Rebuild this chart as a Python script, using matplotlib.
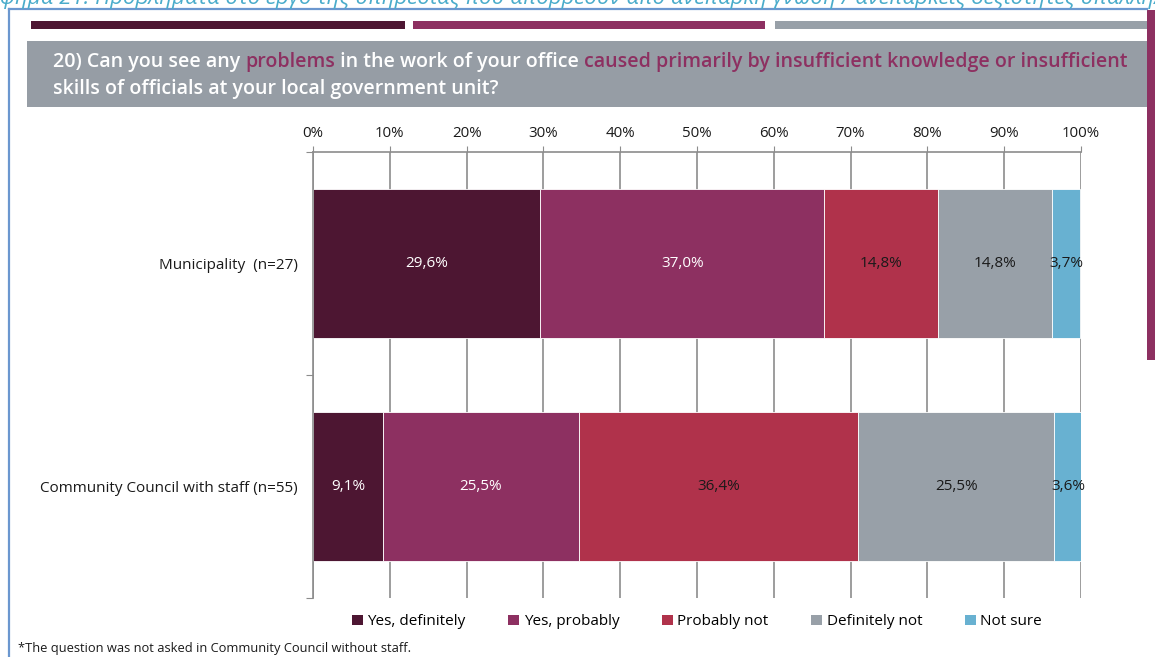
import matplotlib
matplotlib.use("Agg")
import matplotlib.pyplot as plt
from matplotlib.patches import Rectangle, Patch
from matplotlib.lines import Line2D

plt.rcParams['font.family'] = ['Open Sans', 'DejaVu Sans']

# survey answers, % of respondents
groups = ['Municipality  (n=27)', 'Community Council with staff (n=55)']
answers = ['Yes, definitely', 'Yes, probably', 'Probably not', 'Definitely not', 'Not sure']
values = [
    [29.6, 37.0, 14.8, 14.8, 3.7],
    [9.1, 25.5, 36.4, 25.5, 3.6],
]
colors = ['#4d1632', '#8d3061', '#b0324b', '#98a0a8', '#68b1d1']
label_colors = ['white', 'white', '#1a1a1a', '#1a1a1a', '#1a1a1a']
ticks = list(range(0, 101, 10))

W, H = 1155, 657
fig = plt.figure(figsize=(W / 100, H / 100), dpi=100)
renderer = fig.canvas.get_renderer()


def px(x, y):
    # pixel position (from top-left) -> figure fraction
    return x / W, 1 - y / H


def box(x0, y0, x1, y1, color, z=0):
    fig.patches.append(Rectangle(px(x0, y1), (x1 - x0) / W, (y1 - y0) / H,
                                 transform=fig.transFigure, facecolor=color,
                                 edgecolor='none', zorder=z))


# caption running off the top of the page: only its lower strip is in view
fig.text(-36 / W, 1 - 4 / H, 'Γράφημα 21: Προβλήματα στο έργο της υπηρεσίας που απορρέουν από '
         'ανεπαρκή γνώση / ανεπαρκείς δεξιότητες υπαλλήλων',
         color='#4aaccb', fontsize=16, style='italic', va='baseline', ha='left')

# frame lines
fig.add_artist(Line2D([9 / W, 9 / W], [0, 1 - 9 / H], color='#6b97cf', lw=1.6,
                      transform=fig.transFigure))
fig.add_artist(Line2D([9 / W, 1147 / W], [1 - 9 / H, 1 - 9 / H], color='#6b97cf', lw=1.6,
                      transform=fig.transFigure))
box(1147, 10, 1156, 360, '#8d3061')

# colour strips and title box
box(31, 21, 405, 29, '#4d1632')
box(413, 21, 765, 29, '#8d3061')
box(775, 21, 1147, 29, '#98a0a8')
box(27, 41, 1147, 107, '#969da5')

title_lines = [
    [('20) Can you see any ', 'white'), ('problems', '#8d3061'),
     (' in the work of your office ', 'white'),
     ('caused primarily by insufficient knowledge or insufficient', '#8d3061')],
    [('skills of officials at your local government unit?', 'white')],
]
for row, parts in enumerate(title_lines):
    x = 53
    y = 67 + row * 27
    for s, c in parts:
        t = fig.text(*px(x, y), s, color=c, fontsize=14.1, fontweight='semibold',
                     va='baseline', ha='left')
        x += t.get_window_extent(renderer).width

# chart
ax = fig.add_axes([313 / W, 1 - 598 / H, (1081 - 313) / W, (598 - 152) / H])
ax.set_xlim(0, 100)
ax.set_ylim(1.5, -0.5)
ax.xaxis.tick_top()
ax.set_xticks(ticks)
ax.set_xticklabels([f'{t}%' for t in ticks], fontsize=10.8, color='#1a1a1a')
ax.tick_params(axis='x', length=4, color='#8c8c8c', pad=4)
ax.set_yticks([-0.5, 0.5, 1.5])
ax.set_yticklabels([])
ax.set_yticks([0, 1], minor=True)
ax.set_yticklabels(groups, minor=True, fontsize=11, color='#1a1a1a')
ax.tick_params(axis='y', which='major', length=5, color='#8c8c8c')
ax.tick_params(axis='y', which='minor', length=0, pad=10.8)
for side in ['right', 'bottom']:
    ax.spines[side].set_visible(False)
for side in ['top', 'left']:
    ax.spines[side].set_color('#8c8c8c')
    ax.spines[side].set_linewidth(1.2)
ax.grid(axis='x', color='#8c8c8c', lw=1.2)
ax.set_axisbelow(True)

for gi, row in enumerate(values):
    left = 0
    for k, v in enumerate(row):
        ax.barh(gi, v, left=left, height=0.664, color=colors[k], edgecolor='white',
                linewidth=0.6, zorder=2)
        ax.text(left + v / 2, gi, f'{v:.1f}%'.replace('.', ','), ha='center', va='center',
                color=label_colors[k], fontsize=11, zorder=3)
        left += v

handles = [Patch(facecolor=c, edgecolor='none') for c in colors]
ax.legend(handles, answers, loc='upper center', bbox_to_anchor=(0.5, -0.006), ncol=5,
          frameon=False, fontsize=11, handlelength=0.7, handleheight=0.7,
          handletextpad=0.3, columnspacing=2.8)

fig.text(*px(18, 652), '*The question was not asked in Community Council without staff.',
         fontsize=9.3, color='#1a1a1a', va='baseline', ha='left')

fig.savefig('out.png', dpi=100)
